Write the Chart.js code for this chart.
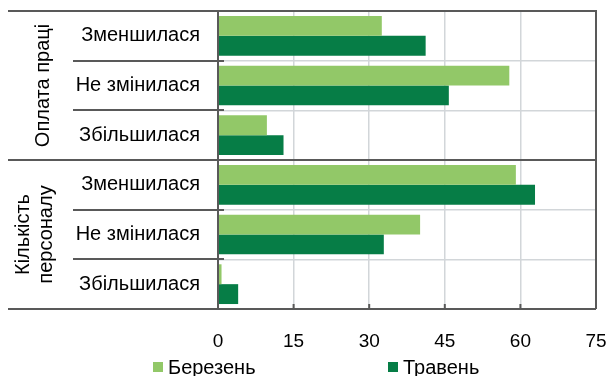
<!DOCTYPE html>
<html lang="uk">
<head>
    <meta charset="UTF-8">
    <title>Оплата праці та кількість персоналу</title>
    <style>
        body { margin: 0; background: #ffffff; }
        .wrap { width: 610px; height: 376px; position: relative; }
    </style>
    <script src="https://cdn.jsdelivr.net/npm/chart.js"></script>
</head>
<body>
    <div class="wrap">
        <canvas id="chart" width="610" height="376"></canvas>
    </div>

    <script>
        // дані
        const categories = ['Зменшилася', 'Не змінилася', 'Збільшилася', 'Зменшилася', 'Не змінилася', 'Збільшилася'];
        const groups = [['Оплата праці'], ['Кількість', 'персоналу']];
        const groupSize = 3;
        const berezen = [32.5, 57.8, 9.7, 59.1, 40.1, 0.7];
        const traven = [41.2, 45.8, 13.0, 62.9, 32.9, 4.0];
        const seriesNames = ['Березень', 'Травень'];
        const xTicks = [0, 15, 30, 45, 60, 75];

        const lightGreen = '#92c868';
        const darkGreen = '#067d46';
        const axisColor = '#595959';
        const gridColor = '#d2d6d9';
        const fontFamily = 'Arial, "Liberation Sans", sans-serif';

        // рамки, розділювачі груп, підписи груп, легенда
        const framePlugin = {
            id: 'frame',
            afterDraw(chart) {
                const ctx = chart.ctx;
                const area = chart.chartArea;
                const y = chart.scales.y;
                const n = categories.length;
                const bounds = [area.top];
                for (let i = 0; i < n - 1; i++) {
                    bounds.push((y.getPixelForValue(i) + y.getPixelForValue(i + 1)) / 2);
                }
                bounds.push(area.bottom);

                ctx.save();
                ctx.strokeStyle = axisColor;
                ctx.lineWidth = 2;
                // рамка області графіка
                ctx.beginPath();
                ctx.moveTo(area.left, area.top);
                ctx.lineTo(area.right, area.top);
                ctx.lineTo(area.right, area.bottom);
                ctx.moveTo(area.left, area.top);
                ctx.lineTo(area.left, area.bottom);
                ctx.stroke();

                // горизонтальні розділювачі зліва
                bounds.forEach((b, i) => {
                    const full = i % groupSize === 0;
                    ctx.beginPath();
                    ctx.moveTo(full ? 8 : 73, Math.round(b));
                    ctx.lineTo(full ? area.right : area.left + 6, Math.round(b));
                    ctx.stroke();
                });

                // поділки осі X
                const x = chart.scales.x;
                xTicks.forEach(t => {
                    const px = x.getPixelForValue(t);
                    ctx.beginPath();
                    ctx.moveTo(px, area.bottom);
                    ctx.lineTo(px, area.bottom - 5);
                    ctx.stroke();
                });

                // підписи груп
                ctx.fillStyle = '#000';
                ctx.font = '20px ' + fontFamily;
                ctx.textAlign = 'center';
                ctx.textBaseline = 'middle';
                groups.forEach((lines, g) => {
                    const cy = (bounds[g * groupSize] + bounds[(g + 1) * groupSize]) / 2;
                    const lh = 23;
                    const cx = lines.length === 1 ? 43 : 35;
                    ctx.save();
                    ctx.translate(cx, cy);
                    ctx.rotate(-Math.PI / 2);
                    lines.forEach((line, k) => {
                        const off = (k - (lines.length - 1) / 2) * lh;
                        ctx.fillText(line, 0, off);
                    });
                    ctx.restore();
                });

                // легенда
                const legendX = [153, 388];
                const legendY = 367;
                chart.data.datasets.forEach((ds, i) => {
                    ctx.fillStyle = ds.backgroundColor;
                    ctx.fillRect(legendX[i], legendY - 5, 10, 10);
                    ctx.fillStyle = '#000';
                    ctx.textAlign = 'left';
                    ctx.fillText(ds.label, legendX[i] + 15, legendY + 1);
                });
                ctx.restore();
            }
        };

        const ctx = document.getElementById('chart').getContext('2d');
        new Chart(ctx, {
            type: 'bar',
            data: {
                labels: categories,
                datasets: [
                    { label: seriesNames[0], data: berezen, backgroundColor: lightGreen },
                    { label: seriesNames[1], data: traven, backgroundColor: darkGreen }
                ]
            },
            options: {
                indexAxis: 'y',
                responsive: false,
                animation: false,
                devicePixelRatio: 1,
                categoryPercentage: 0.8,
                barPercentage: 1.0,
                layout: { padding: { top: 11, right: 14, left: 0, bottom: 0 } },
                plugins: {
                    legend: { display: false },
                    tooltip: { enabled: false }
                },
                scales: {
                    x: {
                        min: 0,
                        max: 75,
                        afterBuildTicks: s => { s.ticks = xTicks.map(v => ({ value: v })); },
                        afterFit: s => {
                            s.height = 67;
                            s.paddingLeft = 0;
                            s.paddingRight = 0;
                        },
                        border: { display: false },
                        grid: { color: gridColor, lineWidth: 1.5, drawTicks: false },
                        ticks: {
                            padding: 21,
                            color: '#000',
                            font: { family: fontFamily, size: 19 }
                        }
                    },
                    y: {
                        afterFit: s => {
                            s.width = 218;
                            s.paddingTop = 0;
                            s.paddingBottom = 0;
                        },
                        border: { display: false },
                        grid: { offset: true, color: gridColor, lineWidth: 1.5, drawTicks: false },
                        ticks: {
                            padding: 18,
                            color: '#000',
                            font: { family: fontFamily, size: 20 }
                        }
                    }
                }
            },
            plugins: [framePlugin]
        });
    </script>
</body>
</html>
